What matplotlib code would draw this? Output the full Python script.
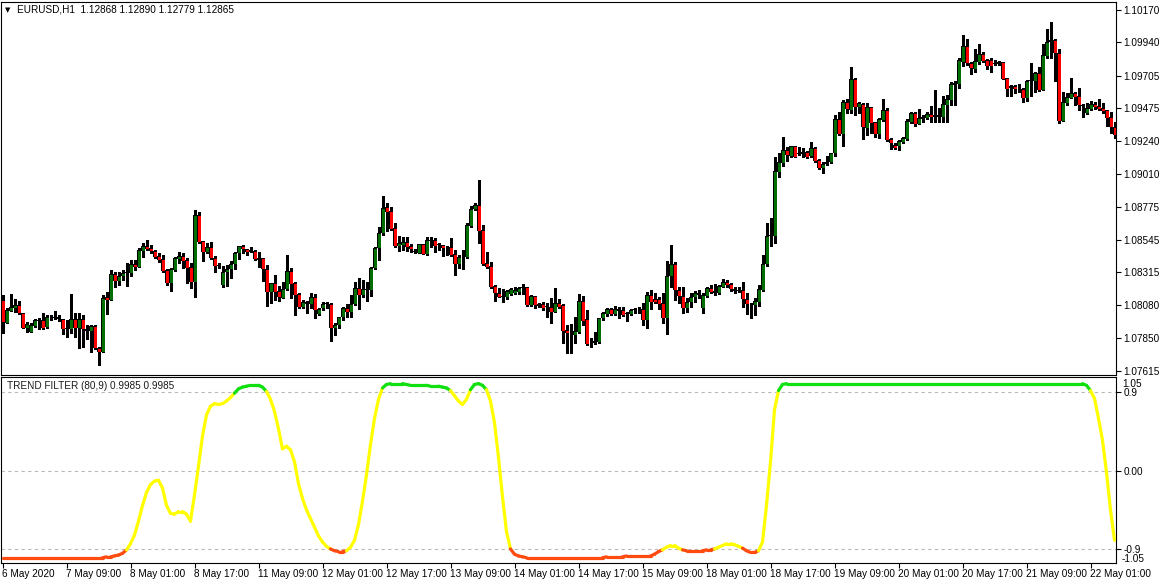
import numpy as np
import matplotlib
matplotlib.use("Agg")
import matplotlib.pyplot as plt
from matplotlib.collections import LineCollection

FONT = ['Liberation Sans Narrow', 'Liberation Sans', 'DejaVu Sans']
plt.rcParams['font.family'] = FONT

# ---------------- data (EURUSD H1 candles) ----------------
opens = [
 1.08117,1.07957,1.08042,1.08063,1.08080,1.08023,1.07922,1.07893,1.07936,1.07971,
 1.07976,1.07926,1.07995,1.07988,1.07997,1.07980,1.07910,1.07910,1.07983,1.07917,
 1.07983,1.07910,1.07896,1.07933,1.07775,1.07752,1.08139,1.08115,1.08301,1.08249,
 1.08287,1.08306,1.08306,1.08374,1.08353,1.08466,1.08499,1.08483,1.08466,1.08429,
 1.08405,1.08330,1.08235,1.08330,1.08410,1.08429,1.08398,1.08351,1.08247,1.08719,
 1.08535,1.08459,1.08490,1.08412,1.08363,1.08224,1.08312,1.08335,1.08372,1.08448,
 1.08500,1.08479,1.08471,1.08464,1.08417,1.08417,1.08337,1.08172,1.08236,1.08181,
 1.08134,1.08193,1.08323,1.08236,1.08160,1.08070,1.08103,1.08087,1.08139,1.08016,
 1.08059,1.08089,1.08089,1.07917,1.07941,1.07995,1.08061,1.08035,1.08087,1.08200,
 1.08153,1.08186,1.08186,1.08346,1.08483,1.08589,1.08776,1.08747,1.08625,1.08502,
 1.08507,1.08526,1.08500,1.08464,1.08452,1.08512,1.08443,1.08535,1.08542,1.08507,
 1.08504,1.08490,1.08493,1.08441,1.08373,1.08420,1.08420,1.08644,1.08760,1.08790,
 1.08613,1.08377,1.08359,1.08217,1.08170,1.08142,1.08142,1.08160,1.08170,1.08177,
 1.08201,1.08208,1.08083,1.08146,1.08078,1.08090,1.08071,1.08071,1.08035,1.08094,
 1.08083,1.07906,1.07882,1.07870,1.07894,1.08111,1.07981,1.07811,1.07811,1.07823,
 1.07988,1.08017,1.08054,1.08017,1.08052,1.08047,1.08024,1.08019,1.08047,1.08052,
 1.08052,1.07976,1.08151,1.08125,1.08125,1.08094,1.07993,1.08287,1.08372,1.08188,
 1.08146,1.08059,1.08101,1.08136,1.08155,1.08059,1.08148,1.08202,1.08184,1.08165,
 1.08212,1.08243,1.08228,1.08195,1.08188,1.08188,1.08122,1.08087,1.08082,1.08106,
 1.08188,1.08370,1.08570,1.08570,1.09026,1.09085,1.09179,1.09137,1.09207,1.09151,
 1.09149,1.09163,1.09139,1.09191,1.09108,1.09049,1.09078,1.09092,1.09156,1.09396,
 1.09290,1.09517,1.09462,1.09682,1.09481,1.09505,1.09337,1.09481,1.09375,1.09290,
 1.09391,1.09462,1.09255,1.09215,1.09210,1.09239,1.09255,1.09380,1.09439,1.09364,
 1.09399,1.09408,1.09434,1.09416,1.09427,1.09416,1.09498,1.09533,1.09640,1.09647,
 1.09805,1.09916,1.09793,1.09753,1.09805,1.09857,1.09817,1.09817,1.09791,1.09788,
 1.09800,1.09687,1.09635,1.09633,1.09609,1.09609,1.09545,1.09668,1.09670,1.09722,
 1.09604,1.09847,1.09942,1.09958,1.09864,1.09387,1.09515,1.09550,1.09581,1.09562,
 1.09498,1.09444,1.09470,1.09505,1.09491,1.09474,1.09463,1.09411,1.09345]
highs = [
 1.08153,1.08058,1.08157,1.08124,1.08113,1.08023,1.07964,1.07957,1.07985,1.07988,
 1.08023,1.08009,1.08011,1.08039,1.08011,1.07980,1.07976,1.08160,1.08023,1.08023,
 1.08011,1.07940,1.07940,1.07940,1.07787,1.08153,1.08176,1.08330,1.08318,1.08318,
 1.08330,1.08377,1.08400,1.08400,1.08488,1.08518,1.08542,1.08507,1.08471,1.08452,
 1.08436,1.08334,1.08341,1.08424,1.08459,1.08452,1.08412,1.08377,1.08754,1.08742,
 1.08535,1.08523,1.08530,1.08429,1.08377,1.08358,1.08366,1.08394,1.08460,1.08500,
 1.08507,1.08479,1.08493,1.08469,1.08460,1.08417,1.08366,1.08236,1.08294,1.08217,
 1.08247,1.08436,1.08342,1.08247,1.08165,1.08118,1.08113,1.08165,1.08162,1.08063,
 1.08101,1.08106,1.08099,1.07952,1.08000,1.08070,1.08087,1.08153,1.08247,1.08271,
 1.08259,1.08243,1.08354,1.08490,1.08636,1.08854,1.08802,1.08778,1.08660,1.08573,
 1.08566,1.08561,1.08512,1.08476,1.08512,1.08512,1.08566,1.08566,1.08559,1.08524,
 1.08504,1.08500,1.08554,1.08472,1.08436,1.08472,1.08661,1.08783,1.08807,1.08967,
 1.08649,1.08460,1.08385,1.08224,1.08201,1.08193,1.08189,1.08201,1.08208,1.08212,
 1.08229,1.08212,1.08153,1.08146,1.08099,1.08106,1.08099,1.08130,1.08201,1.08123,
 1.08087,1.07941,1.07948,1.08000,1.08158,1.08146,1.08047,1.07847,1.07894,1.07993,
 1.08035,1.08059,1.08064,1.08076,1.08071,1.08071,1.08035,1.08052,1.08064,1.08071,
 1.08094,1.08177,1.08189,1.08165,1.08142,1.08165,1.08394,1.08507,1.08389,1.08212,
 1.08212,1.08129,1.08165,1.08181,1.08188,1.08165,1.08212,1.08224,1.08231,1.08224,
 1.08264,1.08259,1.08240,1.08207,1.08212,1.08247,1.08165,1.08099,1.08129,1.08224,
 1.08436,1.08660,1.08700,1.09132,1.09156,1.09273,1.09198,1.09207,1.09207,1.09198,
 1.09191,1.09174,1.09238,1.09203,1.09113,1.09092,1.09137,1.09156,1.09427,1.09451,
 1.09533,1.09540,1.09764,1.09686,1.09521,1.09514,1.09509,1.09486,1.09380,1.09403,
 1.09538,1.09474,1.09267,1.09227,1.09250,1.09272,1.09399,1.09446,1.09446,1.09470,
 1.09427,1.09451,1.09493,1.09604,1.09474,1.09562,1.09569,1.09663,1.09668,1.09833,
 1.09993,1.09965,1.09805,1.09894,1.09927,1.09876,1.09824,1.09828,1.09817,1.09809,
 1.09805,1.09692,1.09640,1.09640,1.09647,1.09616,1.09675,1.09793,1.09734,1.09769,
 1.09927,1.10036,1.10088,1.09963,1.09892,1.09588,1.09581,1.09687,1.09592,1.09616,
 1.09503,1.09510,1.09526,1.09517,1.09541,1.09515,1.09463,1.09446,1.09375]
lows = [
 1.07886,1.07952,1.08039,1.08035,1.08018,1.07917,1.07893,1.07891,1.07929,1.07910,
 1.07910,1.07922,1.07976,1.07983,1.07971,1.07877,1.07853,1.07881,1.07858,1.07775,
 1.07787,1.07839,1.07752,1.07768,1.07657,1.07752,1.08018,1.08115,1.08212,1.08223,
 1.08259,1.08219,1.08287,1.08330,1.08353,1.08419,1.08471,1.08448,1.08412,1.08389,
 1.08318,1.08223,1.08183,1.08325,1.08377,1.08341,1.08240,1.08200,1.08141,1.08518,
 1.08396,1.08448,1.08405,1.08318,1.08341,1.08212,1.08217,1.08276,1.08335,1.08405,
 1.08448,1.08436,1.08455,1.08398,1.08354,1.08255,1.08078,1.08094,1.08118,1.08113,
 1.08134,1.08188,1.08129,1.08011,1.08059,1.08063,1.08023,1.08059,1.07988,1.08011,
 1.08047,1.08063,1.07830,1.07870,1.07917,1.07976,1.08000,1.07995,1.08082,1.08052,
 1.08141,1.08113,1.08148,1.08335,1.08401,1.08578,1.08608,1.08613,1.08495,1.08464,
 1.08471,1.08467,1.08460,1.08452,1.08452,1.08446,1.08436,1.08495,1.08460,1.08471,
 1.08431,1.08436,1.08429,1.08295,1.08342,1.08337,1.08413,1.08637,1.08755,1.08524,
 1.08366,1.08342,1.08201,1.08113,1.08137,1.08106,1.08123,1.08153,1.08160,1.08160,
 1.08160,1.08076,1.08076,1.08064,1.08071,1.08047,1.08000,1.07953,1.08035,1.08059,
 1.07816,1.07741,1.07741,1.07811,1.07887,1.07941,1.07800,1.07788,1.07804,1.07816,
 1.07976,1.08007,1.08012,1.08012,1.07988,1.08005,1.07972,1.08012,1.08028,1.08024,
 1.07941,1.07922,1.08052,1.08094,1.08052,1.07958,1.07877,1.08212,1.08118,1.08099,
 1.08028,1.08035,1.08070,1.08106,1.08129,1.08023,1.08136,1.08165,1.08153,1.08160,
 1.08207,1.08212,1.08184,1.08165,1.08176,1.08070,1.08018,1.07988,1.08011,1.08075,
 1.08184,1.08360,1.08500,1.08523,1.08986,1.09066,1.09101,1.09132,1.09127,1.09144,
 1.09132,1.09125,1.09132,1.09097,1.09045,1.09014,1.09073,1.09085,1.09139,1.09285,
 1.09210,1.09439,1.09439,1.09427,1.09439,1.09260,1.09285,1.09302,1.09273,1.09266,
 1.09384,1.09245,1.09184,1.09184,1.09180,1.09227,1.09250,1.09368,1.09352,1.09364,
 1.09375,1.09399,1.09380,1.09375,1.09380,1.09380,1.09380,1.09498,1.09498,1.09621,
 1.09776,1.09781,1.09715,1.09734,1.09788,1.09805,1.09750,1.09734,1.09781,1.09781,
 1.09680,1.09564,1.09564,1.09581,1.09592,1.09522,1.09529,1.09562,1.09592,1.09597,
 1.09604,1.09828,1.09833,1.09668,1.09368,1.09387,1.09498,1.09545,1.09498,1.09463,
 1.09416,1.09437,1.09463,1.09470,1.09463,1.09444,1.09349,1.09297,1.09267]
closes = [
 1.07964,1.08047,1.08068,1.08082,1.08023,1.07922,1.07947,1.07940,1.07973,1.07976,
 1.07922,1.07997,1.07995,1.07995,1.07980,1.07910,1.07919,1.07983,1.07917,1.07983,
 1.07910,1.07896,1.07933,1.07775,1.07752,1.08131,1.08117,1.08301,1.08249,1.08287,
 1.08308,1.08318,1.08374,1.08353,1.08471,1.08499,1.08478,1.08466,1.08424,1.08400,
 1.08325,1.08235,1.08337,1.08417,1.08429,1.08396,1.08346,1.08247,1.08719,1.08530,
 1.08459,1.08490,1.08412,1.08360,1.08358,1.08314,1.08335,1.08372,1.08450,1.08500,
 1.08476,1.08460,1.08460,1.08405,1.08403,1.08335,1.08172,1.08236,1.08177,1.08137,
 1.08193,1.08323,1.08231,1.08153,1.08070,1.08103,1.08087,1.08139,1.08047,1.08052,
 1.08089,1.08089,1.07917,1.07941,1.07995,1.08061,1.08035,1.08089,1.08200,1.08153,
 1.08193,1.08195,1.08342,1.08483,1.08589,1.08766,1.08743,1.08620,1.08502,1.08519,
 1.08526,1.08495,1.08476,1.08455,1.08512,1.08446,1.08542,1.08542,1.08502,1.08507,
 1.08488,1.08490,1.08436,1.08373,1.08420,1.08420,1.08649,1.08760,1.08790,1.08609,
 1.08373,1.08354,1.08212,1.08170,1.08142,1.08142,1.08182,1.08196,1.08189,1.08205,
 1.08212,1.08083,1.08146,1.08080,1.08090,1.08064,1.08071,1.08035,1.08094,1.08071,
 1.07901,1.07882,1.07882,1.07896,1.08111,1.07972,1.07807,1.07811,1.07828,1.07988,
 1.08028,1.08054,1.08019,1.08054,1.08043,1.08014,1.08017,1.08047,1.08047,1.08052,
 1.07976,1.08151,1.08101,1.08106,1.08090,1.07993,1.08288,1.08372,1.08188,1.08146,
 1.08059,1.08101,1.08136,1.08165,1.08165,1.08153,1.08202,1.08176,1.08165,1.08217,
 1.08243,1.08224,1.08193,1.08179,1.08181,1.08122,1.08087,1.08087,1.08113,1.08193,
 1.08372,1.08570,1.08570,1.09030,1.09092,1.09179,1.09144,1.09207,1.09127,1.09151,
 1.09163,1.09132,1.09191,1.09104,1.09049,1.09078,1.09092,1.09156,1.09396,1.09290,
 1.09517,1.09467,1.09679,1.09481,1.09509,1.09344,1.09481,1.09368,1.09292,1.09398,
 1.09462,1.09250,1.09227,1.09196,1.09243,1.09267,1.09385,1.09439,1.09364,1.09404,
 1.09416,1.09434,1.09416,1.09427,1.09416,1.09505,1.09538,1.09647,1.09656,1.09817,
 1.09916,1.09793,1.09758,1.09809,1.09857,1.09812,1.09776,1.09776,1.09791,1.09800,
 1.09684,1.09614,1.09616,1.09609,1.09609,1.09545,1.09668,1.09673,1.09725,1.09604,
 1.09852,1.09946,1.09958,1.09864,1.09385,1.09517,1.09552,1.09581,1.09557,1.09496,
 1.09491,1.09474,1.09505,1.09482,1.09470,1.09456,1.09408,1.09345,1.09286]

# TREND FILTER (80,9) indicator value per bar
trend = [
 -1.00,-1.00,-1.00,-1.00,-1.00,-1.00,-1.00,-1.00,-1.00,-1.00,
 -1.00,-1.00,-1.00,-1.00,-1.00,-1.00,-1.00,-1.00,-1.00,-1.00,
 -1.00,-1.00,-1.00,-1.00,-1.00,-1.00,-0.99,-0.99,-0.98,-0.97,
 -0.95,-0.91,-0.84,-0.74,-0.58,-0.40,-0.25,-0.16,-0.12,-0.11,
 -0.20,-0.40,-0.49,-0.50,-0.47,-0.47,-0.50,-0.58,-0.28,0.05,
 0.40,0.64,0.74,0.77,0.76,0.77,0.80,0.84,0.89,0.94,
 0.96,0.97,0.98,0.98,0.98,0.96,0.91,0.82,0.68,0.48,
 0.25,0.28,0.24,0.10,-0.15,-0.32,-0.45,-0.55,-0.65,-0.75,
 -0.82,-0.87,-0.90,-0.92,-0.93,-0.93,-0.92,-0.88,-0.80,-0.62,
 -0.35,-0.05,0.30,0.60,0.82,0.95,0.99,1.00,1.00,1.00,
 1.00,0.99,0.98,0.98,0.98,0.98,0.98,0.97,0.97,0.97,
 0.96,0.95,0.92,0.86,0.80,0.76,0.82,0.93,0.99,1.00,
 0.98,0.93,0.80,0.55,0.15,-0.30,-0.70,-0.90,-0.96,-0.98,
 -0.99,-1.00,-1.00,-1.00,-1.00,-1.00,-1.00,-1.00,-1.00,-1.00,
 -1.00,-1.00,-1.00,-1.00,-1.00,-1.00,-1.00,-1.00,-1.00,-1.00,
 -1.00,-0.99,-0.99,-0.99,-0.99,-0.99,-0.98,-0.98,-0.98,-0.98,
 -0.98,-0.98,-0.98,-0.96,-0.93,-0.91,-0.88,-0.86,-0.86,-0.89,
 -0.91,-0.92,-0.92,-0.92,-0.92,-0.92,-0.91,-0.91,-0.90,-0.88,
 -0.86,-0.84,-0.84,-0.85,-0.87,-0.89,-0.92,-0.94,-0.94,-0.92,
 -0.82,-0.40,0.10,0.70,0.92,0.99,1.00,1.00,1.00,1.00,
 1.00,1.00,1.00,1.00,1.00,1.00,1.00,1.00,1.00,1.00,
 1.00,1.00,1.00,1.00,1.00,1.00,1.00,1.00,1.00,1.00,
 1.00,1.00,1.00,1.00,1.00,1.00,1.00,1.00,1.00,1.00,
 1.00,1.00,1.00,1.00,1.00,1.00,1.00,1.00,1.00,1.00,
 1.00,1.00,1.00,1.00,1.00,1.00,1.00,1.00,1.00,1.00,
 1.00,1.00,1.00,1.00,1.00,1.00,1.00,1.00,1.00,1.00,
 1.00,1.00,1.00,1.00,1.00,1.00,1.00,1.00,1.00,1.00,
 1.00,0.98,0.92,0.83,0.60,0.35,-0.02,-0.45,-0.80]

price_ticks = [1.10170, 1.09940, 1.09705, 1.09475, 1.09240, 1.09010,
               1.08775, 1.08545, 1.08315, 1.08080, 1.07850, 1.07615]
date_labels = ["6 May 2020", "7 May 09:00", "8 May 01:00", "8 May 17:00",
               "11 May 09:00", "12 May 01:00", "12 May 17:00", "13 May 09:00",
               "14 May 01:00", "14 May 17:00", "15 May 09:00", "18 May 01:00",
               "18 May 17:00", "19 May 09:00", "20 May 01:00", "20 May 17:00",
               "21 May 09:00", "22 May 01:00"]
level_lines = [0.9, 0.0, -0.9]
title_text = "EURUSD,H1  1.12868 1.12890 1.12779 1.12865"
ind_text = "TREND FILTER (80,9) 0.9985 0.9985"

# ---------------- figure ----------------
o = np.array(opens); h = np.array(highs); l = np.array(lows); c = np.array(closes)
tr = np.array(trend)
n = len(o)
assert len(h) == n and len(l) == n and len(c) == n and len(tr) == n
x = np.arange(n)

W, H = 1164, 583
fig = plt.figure(figsize=(W / 100, H / 100), dpi=100)
fig.patch.set_facecolor('white')

def px_axes(x0, y0, x1, y1):
    return fig.add_axes([x0 / W, 1 - y1 / H, (x1 - x0) / W, (y1 - y0) / H])

MAIN_TOP, MAIN_BOT = 2, 375
ax = px_axes(1, MAIN_TOP, 1116, MAIN_BOT)
ax2 = px_axes(1, 377, 1116, 563)

xlo, xhi = -0.375, n - 0.625
FS = 7.2
YLO, YHI = 1.075865, 1.102266
one_px = (YHI - YLO) / (MAIN_BOT - MAIN_TOP)   # price span of one pixel

# main candles: black wick, black 3-px body, 1-px coloured core
up = c >= o
lo_b = np.minimum(o, c)
hi_b = np.maximum(o, c)
ax.vlines(x, l, h, color='black', linewidth=0.75, antialiased=False, zorder=2)
ax.bar(x, np.maximum(hi_b - lo_b, one_px * 0.6), bottom=lo_b, width=0.75,
       color='black', linewidth=0, antialiased=False, zorder=3)
core = (hi_b - lo_b) > 2.2 * one_px
ax.vlines(x[core], lo_b[core] + one_px, hi_b[core] - one_px,
          colors=np.where(up[core], '#006e00', '#ff0000'),
          linewidth=0.75, antialiased=False, zorder=4)
ax.set_xlim(xlo, xhi)
ax.set_ylim(YLO, YHI)
ax.set_xticks([])
ax.yaxis.tick_right()
ax.set_yticks(price_ticks)
ax.set_yticklabels([f"{v:.5f}" for v in price_ticks])
ax.tick_params(axis='y', direction='out', length=3.5, width=0.8, pad=2,
               labelsize=FS, colors='black')
for s in ax.spines.values():
    s.set_color('black'); s.set_linewidth(0.8)

# indicator
pts = np.column_stack([x, tr])
segs = np.stack([pts[:-1], pts[1:]], axis=1)
mid = (tr[:-1] + tr[1:]) / 2
cols = np.where(mid > 0.9, '#10e010', np.where(mid < -0.9, '#ff4a10', '#ffff00'))
lc = LineCollection(segs, colors=cols, linewidths=2.3, capstyle='round', zorder=3)
ax2.add_collection(lc)
for lv in level_lines:
    ax2.axhline(lv, color='#b8b8b8', linewidth=0.8, linestyle=(0, (3, 3)), zorder=1)
ax2.set_xlim(xlo, xhi)
ax2.set_ylim(-1.061, 1.076)
ax2.yaxis.tick_right()
ax2.set_yticks(level_lines)
ax2.set_yticklabels(["0.9", "0.00", "-0.9"])
ax2.tick_params(axis='y', direction='out', length=3.5, width=0.8, pad=2,
                labelsize=FS, colors='black')
ytr = ax2.get_yaxis_transform()
lab_x = 1.0 + 6 / 1115
ax2.text(lab_x, 0.99, "1.05", transform=ytr, fontsize=FS, va='center', ha='left')
ax2.text(lab_x, -1.02, "-1.05", transform=ytr, fontsize=FS, va='center', ha='left')
tick_pos = np.arange(0, n, 16)
ax2.set_xticks(tick_pos)
ax2.set_xticklabels(date_labels[:len(tick_pos)], ha='left')
ax2.tick_params(axis='x', direction='out', length=3.5, width=0.8, pad=1,
                labelsize=FS, colors='black')
for s in ax2.spines.values():
    s.set_color('black'); s.set_linewidth(0.8)

ax2.text(6 / 1115, 1 - 9 / 186, ind_text, transform=ax2.transAxes,
         fontsize=FS, va='center', ha='left', color='#1a1a1a')

# header
fig.text(5 / W, 1 - 10 / H, "\u25BC", fontsize=5, va='center', ha='left',
         family=['DejaVu Sans'])
fig.text(17 / W, 1 - 10 / H, title_text, fontsize=FS, va='center', ha='left')

fig.savefig("out.png", dpi=100, facecolor='white')
